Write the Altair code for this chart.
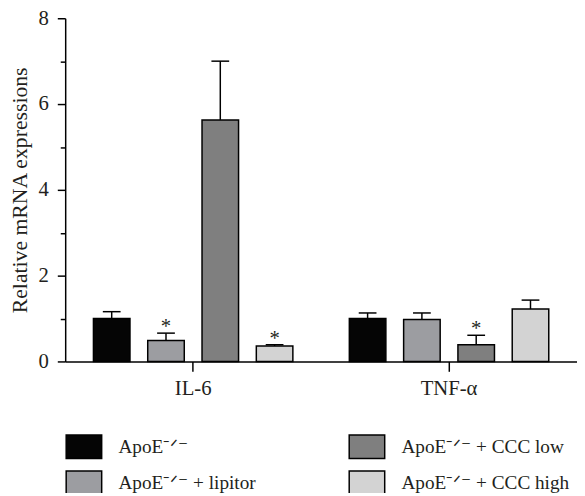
import altair as alt
import pandas as pd

groups = ["IL-6", "TNF-α"]
treatments = ["ApoE⁻ᐟ⁻", "ApoE⁻ᐟ⁻ + lipitor", "ApoE⁻ᐟ⁻ + CCC low", "ApoE⁻ᐟ⁻ + CCC high"]
colors = ["#050505", "#9c9da1", "#7f7f7f", "#d3d3d3"]

il6_mean = [1.0, 0.49, 5.63, 0.36]
il6_err = [0.16, 0.17, 1.37, 0.03]
il6_sig = ["", "*", "", "*"]
tnf_mean = [1.0, 0.98, 0.39, 1.22]
tnf_err = [0.13, 0.15, 0.22, 0.21]
tnf_sig = ["", "", "*", ""]

rows = []
for g, means, errs, sigs in [(groups[0], il6_mean, il6_err, il6_sig),
                             (groups[1], tnf_mean, tnf_err, tnf_sig)]:
    for t, m, e, s in zip(treatments, means, errs, sigs):
        rows.append({"group": g, "treatment": t, "mean": m, "upper": m + e, "sig": s})
df = pd.DataFrame(rows)

FONT = "Liberation Serif"
TXT = "#231f20"

x_enc = alt.X("group:N", sort=groups,
              scale=alt.Scale(paddingInner=0, paddingOuter=0),
              axis=alt.Axis(title=None, labelAngle=0, tickSize=10, tickWidth=1.5,
                            domainWidth=1.5, domainColor="black", tickColor="black",
                            labelBaseline="alphabetic", labelPadding=24,
                            labelFont=FONT, labelFontSize=21, labelColor=TXT))
xo_enc = alt.XOffset("treatment:N", sort=treatments,
                     scale=alt.Scale(paddingInner=0.327, paddingOuter=0.52))
y_scale = alt.Scale(domain=[0, 8], nice=False, zero=True)

base = alt.Chart(df)

bars = base.mark_bar(stroke="black", strokeWidth=1.5, opacity=1).encode(
    x=x_enc,
    xOffset=xo_enc,
    y=alt.Y("mean:Q", scale=y_scale,
            axis=alt.Axis(values=list(range(9)), grid=False,
                          labelExpr="datum.value % 2 == 0 ? datum.label : ''",
                          tickSize={"condition": {"test": "datum.value % 2 == 1", "value": 5}, "value": 8},
                          tickWidth=1.5, tickColor="black", domainColor="black", domainWidth=1.5,
                          labelPadding=9, labelFont=FONT, labelFontSize=21, labelColor=TXT,
                          title="Relative mRNA expressions", titleFont=FONT, titleFontSize=22,
                          titleFontWeight="normal", titleColor=TXT, titleAngle=-90,
                          titleX=-39, titleY=174, titleAlign="center",
                          titleBaseline="alphabetic")),
    color=alt.Color("treatment:N",
                    scale=alt.Scale(domain=treatments, range=colors),
                    legend=alt.Legend(title=None, orient="none", legendX=0, legendY=415,
                                      columns=2, columnPadding=91, rowPadding=2,
                                      symbolType="M-1,-0.667L1,-0.667L1,0.667L-1,0.667Z",
                                      symbolSize=1296, symbolStrokeColor="black",
                                      symbolStrokeWidth=1.5, symbolOpacity=1,
                                      labelFont=FONT, labelFontSize=19.5, labelColor=TXT,
                                      labelOffset=16, labelLimit=400)),
)

err_line = base.mark_rule(color="black", strokeWidth=1.5).encode(
    x=alt.X("group:N", sort=groups), xOffset=xo_enc,
    y=alt.Y("mean:Q", scale=y_scale), y2="upper:Q")

err_cap = base.mark_tick(color="black", thickness=1.5, size=18, opacity=1).encode(
    x=alt.X("group:N", sort=groups), xOffset=xo_enc,
    y=alt.Y("upper:Q", scale=y_scale))

stars = base.mark_text(font=FONT, fontSize=21, color=TXT, baseline="alphabetic", dy=0).encode(
    x=alt.X("group:N", sort=groups), xOffset=xo_enc,
    y=alt.Y("upper:Q", scale=y_scale), text="sig:N")

chart = alt.layer(bars, err_line, err_cap, stars).properties(
    width=519, height=348,
    autosize=alt.AutoSizeParams(type="none"),
    padding={"left": 58, "top": 7, "right": 0, "bottom": 130},
).configure_view(stroke=None)

chart.save("out.html", embed_options={"renderer": "svg", "actions": False})
